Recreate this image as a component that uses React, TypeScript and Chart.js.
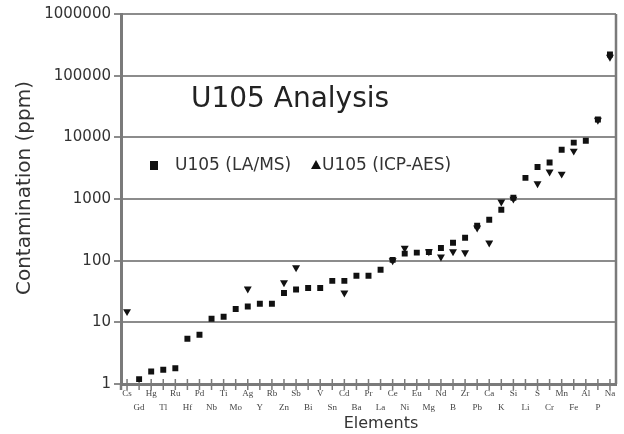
import React, { useEffect, useRef } from "react";
import { Chart, registerables } from "chart.js";

Chart.register(...registerables);

// Categories (element symbols), in plotted order
const ELEMENTS = [
  "Cs", "Gd", "Hg", "Tl", "Ru", "Hf", "Pd", "Nb", "Ti", "Mo",
  "Ag", "Y", "Rb", "Zn", "Sb", "Bi", "V", "Sn", "Cd", "Ba",
  "Pr", "La", "Ce", "Ni", "Eu", "Mg", "Nd", "B", "Zr", "Pb",
  "Ca", "K", "Si", "Li", "S", "Cr", "Mn", "Fe", "Al", "P", "Na",
];

// U105 (LA/MS) contamination, ppm
const LA_MS = [
  null, 1.2, 1.6, 1.7, 1.8, 5.4, 6.3, 11.4, 12.3, 16.5,
  18, 20, 20, 30, 34, 36, 36, 47, 47, 57,
  57, 71, 103, 130, 135, 138, 160, 195, 235, 370,
  460, 670, 1050, 2200, 3300, 3900, 6300, 8200, 8800, 19500, 220000,
];

// U105 (ICP-AES) contamination, ppm
const ICP_AES = [
  15, null, null, null, null, null, null, null, null, null,
  35, null, null, 44, 77, null, null, null, 30, null,
  null, null, 100, 160, null, 140, 115, 140, 135, 340,
  195, 900, 1000, null, 1780, 2750, 2550, 6000, null, 19000, 200000,
];

const Y_TICKS = [1, 10, 100, 1000, 10000, 100000, 1000000];

const TITLE = "U105 Analysis";
const SERIES_NAMES = ["U105 (LA/MS)", "U105 (ICP-AES)"];
const X_TITLE = "Elements";
const Y_TITLE = "Contamination (ppm)";

const SANS = "'DejaVu Sans', sans-serif";

const decorPlugin = {
  id: "decor",
  beforeDatasetsDraw(chart: any) {
    const { ctx, chartArea, scales } = chart;
    const xs = scales.x;
    ctx.save();
    ctx.strokeStyle = "#7a7a7a";
    ctx.lineWidth = 1.5;
    for (let i = 0; i < xs.ticks.length; i++) {
      const px = xs.getPixelForTick(i);
      ctx.beginPath();
      ctx.moveTo(px, chartArea.bottom - 5);
      ctx.lineTo(px, chartArea.bottom + 6);
      ctx.stroke();
    }
    ctx.lineWidth = 2.5;
    ctx.beginPath();
    ctx.moveTo(chartArea.right, chartArea.top);
    ctx.lineTo(chartArea.right, chartArea.bottom);
    ctx.stroke();
    ctx.beginPath();
    ctx.moveTo(chartArea.left, chartArea.bottom);
    ctx.lineTo(chartArea.left, chartArea.bottom + 6);
    ctx.stroke();
    ctx.restore();
  },
  afterDraw(chart: any) {
    const { ctx } = chart;
    ctx.save();
    ctx.fillStyle = "#222";
    // Title
    ctx.font = `28px ${SANS}`;
    ctx.textAlign = "center";
    ctx.textBaseline = "middle";
    ctx.fillText(TITLE, 290, 100);
    // Legend
    ctx.font = `17px ${SANS}`;
    ctx.textAlign = "left";
    ctx.fillStyle = "#111";
    ctx.fillRect(150, 161, 8, 9);
    ctx.fillStyle = "#333";
    ctx.fillText(SERIES_NAMES[0], 175, 166);
    ctx.fillStyle = "#111";
    ctx.beginPath();
    ctx.moveTo(316, 160);
    ctx.lineTo(321, 169);
    ctx.lineTo(311, 169);
    ctx.closePath();
    ctx.fill();
    ctx.fillStyle = "#333";
    ctx.fillText(SERIES_NAMES[1], 322, 166);
    // X title
    ctx.font = `16px ${SANS}`;
    ctx.textAlign = "center";
    ctx.fillText(X_TITLE, 381, 424);
    // Y title
    ctx.font = `20px ${SANS}`;
    ctx.translate(25, 188);
    ctx.rotate(-Math.PI / 2);
    ctx.fillText(Y_TITLE, 0, 0);
    ctx.restore();
  },
};

export default function App() {
  const canvasRef = useRef<HTMLCanvasElement | null>(null);

  useEffect(() => {
    const canvas = canvasRef.current;
    if (!canvas) return;
    const labels = ELEMENTS.map((e, i) => (i % 2 === 0 ? [e] : ["", e]));
    const chart = new Chart(canvas, {
      type: "line",
      data: {
        labels,
        datasets: [
          {
            label: SERIES_NAMES[1],
            data: ICP_AES,
            showLine: false,
            pointStyle: "triangle",
            rotation: 180,
            radius: 4.6,
            backgroundColor: "#111",
            borderColor: "#111",
            borderWidth: 0,
          },
          {
            label: SERIES_NAMES[0],
            data: LA_MS,
            showLine: false,
            pointStyle: "rect",
            radius: 4.2,
            backgroundColor: "#111",
            borderColor: "#111",
            borderWidth: 0,
          },
        ],
      },
      options: {
        animation: false,
        responsive: false,
        devicePixelRatio: 1,
        layout: { padding: { top: 14, right: 8, left: 0, bottom: 0 } },
        plugins: {
          legend: { display: false },
          title: { display: false },
          tooltip: { enabled: false },
        },
        scales: {
          x: {
            type: "category",
            offset: true,
            grid: { display: false, drawTicks: false },
            border: { display: true, color: "#7a7a7a", width: 3 },
            ticks: {
              autoSkip: false,
              maxRotation: 0,
              minRotation: 0,
              padding: 3,
              color: "#444",
              font: { family: "'Liberation Serif', serif", size: 9, lineHeight: 1.5 },
            },
            afterFit(scale: any) {
              scale.height = 50;
            },
          },
          y: {
            type: "logarithmic",
            min: 1,
            max: 1000000,
            grid: { color: "#8c8c8c", lineWidth: 2, tickLength: 7, drawTicks: true },
            border: { display: true, color: "#7a7a7a", width: 3 },
            afterBuildTicks(scale: any) {
              scale.ticks = Y_TICKS.map((v) => ({ value: v }));
            },
            ticks: {
              padding: 3,
              color: "#333",
              font: { family: SANS, size: 15 },
              callback: (v: any) => String(v),
            },
            afterFit(scale: any) {
              scale.width = 121;
            },
          },
        },
      },
      plugins: [decorPlugin],
    });
    return () => chart.destroy();
  }, []);

  return (
    <canvas
      ref={canvasRef}
      width={624}
      height={434}
      style={{ position: "absolute", left: 0, top: 0, width: 624, height: 434 }}
    />
  );
}
